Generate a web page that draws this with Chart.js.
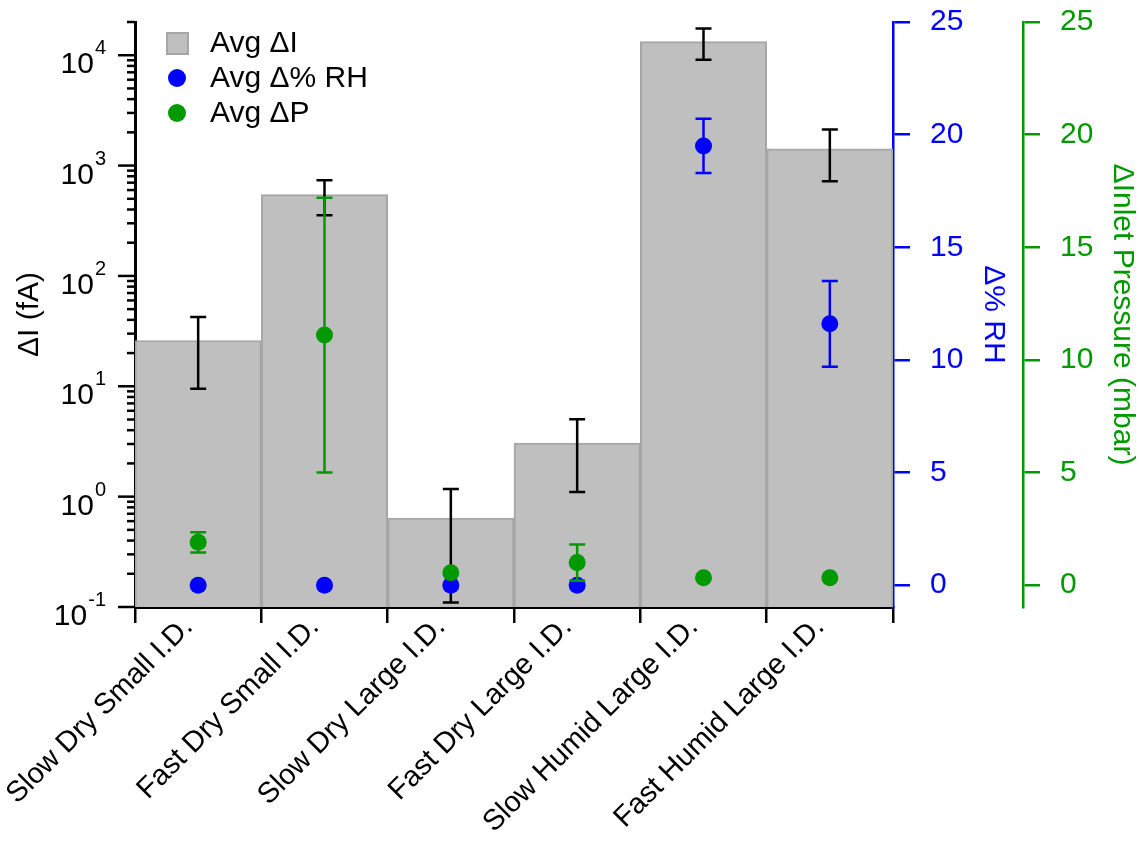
<!DOCTYPE html>
<html>
<head>
<meta charset="utf-8">
<title>Average ΔI, Δ% RH and ΔP per flow condition</title>
<script src="https://cdn.jsdelivr.net/npm/chart.js@4.4.1/dist/chart.umd.min.js"></script>
<style>
  html, body { margin: 0; padding: 0; background: #fff; }
  #wrap { width: 1141px; height: 842px; }
</style>
</head>
<body>
<div id="wrap"><canvas id="chart" width="1141" height="842"></canvas></div>
<script>
const FONT = "'Liberation Sans', Arial, Helvetica, sans-serif";

const categories = [
  "Slow Dry Small I.D.",
  "Fast Dry Small I.D.",
  "Slow Dry Large I.D.",
  "Fast Dry Large I.D.",
  "Slow Humid Large I.D.",
  "Fast Humid Large I.D.",
];

// current change, fA (log axis)
const avgCurrent = [26, 545, 0.64, 3.06, 13300, 1420];
const currentErr = [16.5, 190, 0.53, 1.96, 4200, 700];

// relative humidity change, %
const avgRH = [0, 0, 0, 0, 19.5, 11.6];
const rhErr = [0, 0, 0, 0, 1.2, 1.9];

// inlet pressure change, mbar
const avgPressure = [1.9, 11.1, 0.55, 1.0, 0.33, 0.33];
const pressureErr = [0.45, 6.1, 0, 0.8, 0, 0];

// powers of ten labelled on the current axis
const decades = [-1, 0, 1, 2, 3, 4];

const GREY = "#bfbfbf";
const GREY_EDGE = "#a6a6a6";
const BLUE = "#0000ff";
const GREEN = "#009900";

// vertical error bars with caps, drawn from each dataset's `errors`
function drawErrorBars(chart, meta, ds) {
  const scale = chart.scales[meta.yAxisID];
  const ctx = chart.ctx;
  ctx.save();
  ctx.strokeStyle = ds.errorColor;
  ctx.lineWidth = 2.5;
  meta.data.forEach((el, i) => {
    const err = ds.errors[i];
    if (!err) return;
    const v = ds.data[i];
    const x = el.x;
    const yHi = scale.getPixelForValue(v + err);
    const yLo = scale.getPixelForValue(v - err);
    ctx.beginPath();
    ctx.moveTo(x, yHi);
    ctx.lineTo(x, yLo);
    ctx.moveTo(x - 8, yHi);
    ctx.lineTo(x + 8, yHi);
    ctx.moveTo(x - 8, yLo);
    ctx.lineTo(x + 8, yLo);
    ctx.stroke();
  });
  ctx.restore();
}

const errorBars = {
  id: "errorBars",
  beforeDatasetDraw(chart, args) {
    const ds = chart.data.datasets[args.index];
    if (ds.type === "line") drawErrorBars(chart, args.meta, ds);
  },
  afterDatasetDraw(chart, args) {
    const ds = chart.data.datasets[args.index];
    if (ds.type === "bar") drawErrorBars(chart, args.meta, ds);
  },
};

// log axis: long ticks on decades, short ones in between, 10^n labels
const logAxisTicks = {
  id: "logAxisTicks",
  afterDraw(chart) {
    const scale = chart.scales.y;
    const ctx = chart.ctx;
    const x0 = scale.right;
    ctx.save();
    ctx.strokeStyle = "#000";
    ctx.lineWidth = 2.5;
    decades.forEach((d) => {
      for (let k = 1; k <= 9; k++) {
        const v = k * Math.pow(10, d);
        if (v > scale.max * 1.0001) break;
        const y = scale.getPixelForValue(v);
        const len = k === 1 ? 17 : 8;
        ctx.beginPath();
        ctx.moveTo(x0 - len, y);
        ctx.lineTo(x0, y);
        ctx.stroke();
      }
    });
    ctx.fillStyle = "#000";
    ctx.textBaseline = "alphabetic";
    ctx.textAlign = "right";
    const right = x0 - 29;
    decades.forEach((d) => {
      const y = scale.getPixelForValue(Math.pow(10, d));
      const exp = String(d);
      ctx.font = "20px " + FONT;
      const ew = ctx.measureText(exp).width;
      ctx.fillText(exp, right, y - 1);
      ctx.font = "30px " + FONT;
      ctx.fillText("10", right - ew - 1, y + 18);
    });
    ctx.restore();
  },
};

// legend in the upper left of the plot
const cornerLegend = {
  id: "cornerLegend",
  afterDraw(chart) {
    const ctx = chart.ctx;
    const x = chart.chartArea.left + 42;
    const top = chart.chartArea.top + 21;
    ctx.save();
    ctx.font = "30px " + FONT;
    ctx.textBaseline = "middle";
    ctx.textAlign = "left";
    chart.data.datasets.forEach((ds, i) => {
      const y = top + i * 35;
      if (ds.type === "bar") {
        ctx.fillStyle = ds.backgroundColor;
        ctx.fillRect(x - 10, y - 10, 21, 21);
        ctx.strokeStyle = ds.borderColor;
        ctx.lineWidth = 2;
        ctx.strokeRect(x - 10, y - 10, 21, 21);
      } else {
        ctx.fillStyle = ds.pointBackgroundColor;
        ctx.beginPath();
        ctx.arc(x, y, 9, 0, Math.PI * 2);
        ctx.fill();
      }
      ctx.fillStyle = "#000";
      ctx.fillText(ds.label, x + 33, y + 1);
    });
    ctx.restore();
  },
};

const sideAxis = (color, title, titlePad, width) => ({
  type: "linear",
  position: "right",
  min: -0.97,
  max: 25,
  afterFit(axis) {
    axis.width = width;
    axis.paddingTop = 0;
    axis.paddingBottom = 0;
  },
  grid: { drawOnChartArea: false, color: color, lineWidth: 2.5, tickLength: 17 },
  border: { color: color, width: 2.5 },
  ticks: {
    stepSize: 5,
    includeBounds: false,
    color: color,
    padding: 20,
    font: { family: FONT, size: 30 },
  },
  title: {
    display: true,
    text: title,
    color: color,
    font: { family: FONT, size: 30 },
    padding: { top: titlePad, bottom: 0 },
  },
});

new Chart(document.getElementById("chart"), {
  type: "bar",
  data: {
    labels: categories,
    datasets: [
      {
        type: "bar",
        label: "Avg ΔI",
        data: avgCurrent,
        errors: currentErr,
        errorColor: "#000",
        yAxisID: "y",
        backgroundColor: GREY,
        borderColor: GREY_EDGE,
        borderWidth: 2,
        barPercentage: 1,
        categoryPercentage: 1,
        order: 3,
      },
      {
        type: "line",
        label: "Avg Δ% RH",
        data: avgRH,
        errors: rhErr,
        errorColor: BLUE,
        yAxisID: "yRH",
        showLine: false,
        pointRadius: 8.5,
        pointBorderWidth: 0,
        pointBackgroundColor: BLUE,
        borderColor: BLUE,
        order: 2,
      },
      {
        type: "line",
        label: "Avg ΔP",
        data: avgPressure,
        errors: pressureErr,
        errorColor: GREEN,
        yAxisID: "yP",
        showLine: false,
        pointRadius: 8.5,
        pointBorderWidth: 0,
        pointBackgroundColor: GREEN,
        borderColor: GREEN,
        order: 1,
      },
    ],
  },
  options: {
    responsive: false,
    devicePixelRatio: 1,
    animation: false,
    events: [],
    layout: { padding: { top: 22, left: 0, right: 0, bottom: 0 } },
    plugins: { legend: { display: false }, tooltip: { enabled: false } },
    scales: {
      x: {
        offset: true,
        afterFit(axis) {
          axis.height = 235;
          axis.paddingLeft = 0;
          axis.paddingRight = 0;
        },
        grid: {
          offset: true,
          drawOnChartArea: false,
          color: "#000",
          lineWidth: 2.5,
          tickLength: 16,
        },
        border: { color: "#000", width: 3 },
        ticks: {
          color: "#000",
          autoSkip: false,
          maxRotation: 45,
          minRotation: 45,
          padding: -13,
          labelOffset: -10,
          font: { family: FONT, size: 29 },
        },
      },
      y: {
        type: "logarithmic",
        position: "left",
        min: 0.1,
        max: 20000,
        afterFit(axis) {
          axis.width = 135;
          axis.paddingTop = 0;
          axis.paddingBottom = 0;
        },
        grid: { display: false },
        border: { color: "#000", width: 3 },
        ticks: { display: false },
        title: {
          display: true,
          text: "ΔI (fA)",
          color: "#000",
          font: { family: FONT, size: 30 },
          padding: { top: 12, bottom: 0 },
        },
      },
      yRH: sideAxis(BLUE, "Δ% RH", 12, 130),
      yP: sideAxis(GREEN, "ΔInlet Pressure (mbar)", 1, 118),
    },
  },
  plugins: [errorBars, logAxisTicks, cornerLegend],
});
</script>
</body>
</html>
